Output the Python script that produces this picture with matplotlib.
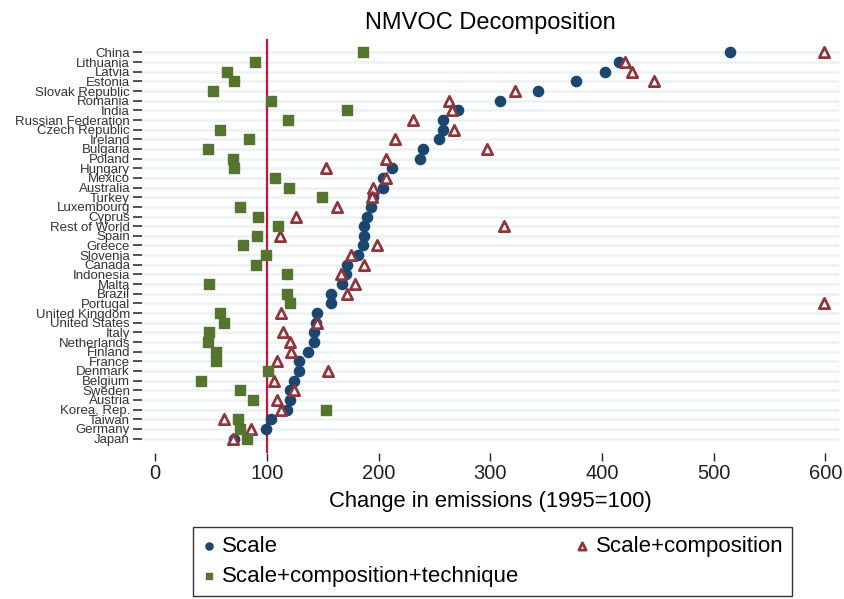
# NMVOC decomposition dot chart, Stata-like look
import numpy as np
import matplotlib.pyplot as plt

plt.rcParams['font.family'] = ['Liberation Sans', 'DejaVu Sans']

countries = ['China', 'Lithuania', 'Latvia', 'Estonia', 'Slovak Republic', 'Romania',
             'India', 'Russian Federation', 'Czech Republic', 'Ireland', 'Bulgaria',
             'Poland', 'Hungary', 'Mexico', 'Australia', 'Turkey', 'Luxembourg',
             'Cyprus', 'Rest of World', 'Spain', 'Greece', 'Slovenia', 'Canada',
             'Indonesia', 'Malta', 'Brazil', 'Portugal', 'United Kingdom',
             'United States', 'Italy', 'Netherlands', 'Finland', 'France', 'Denmark',
             'Belgium', 'Sweden', 'Austria', 'Korea, Rep.', 'Taiwan', 'Germany', 'Japan']

scale = [515, 415, 403, 377, 343, 309, 271, 258, 258, 254, 240, 237, 212, 204, 204,
         195, 193, 190, 187, 187, 186, 182, 172, 171, 167, 157, 157, 145, 144, 142,
         142, 137, 129, 129, 124, 121, 121, 118, 104, 99, 71]

scale_comp = [599, 421, 427, 447, 322, 263, 266, 231, 268, 215, 297, 207, 153, 207,
              195, 194, 163, 126, 312, 112, 199, 175, 187, 166, 179, 172, 599, 113,
              145, 114, 121, 122, 109, 155, 106, 124, 109, 113, 62, 86, 70]

scale_comp_tech = [186, 89, 64, 71, 52, 104, 172, 119, 58, 84, 47, 70, 71, 107, 120,
                   149, 76, 92, 110, 91, 79, 99, 90, 118, 48, 118, 121, 58, 62, 48,
                   47, 54, 54, 101, 41, 76, 88, 153, 74, 76, 82]

navy = '#1a476f'
maroon = '#90353b'
green = '#55752f'

n = len(countries)
ypos = np.arange(n, 0, -1)

fig = plt.figure(figsize=(8.44, 5.99), dpi=100)
ax = fig.add_axes([0.168, 0.2437, 0.8257, 0.6913])

ax.axvline(100, color='#c8143c', lw=1.6, zorder=1)
s1 = ax.scatter(scale, ypos, s=54, marker='o', color=navy, zorder=3, label='Scale')
s2 = ax.scatter(scale_comp, ypos, s=55, marker='^', facecolor='white', edgecolor=maroon,
                linewidths=2.0, zorder=4, label='Scale+composition')
s3 = ax.scatter(scale_comp_tech, ypos, s=46, marker='s', color=green, zorder=5,
                label='Scale+composition+technique')

ax.set_yticks(ypos)
ax.set_yticklabels(countries, fontsize=9.5, color='#222222')
ax.set_ylim(-0.5, 42.4)
ax.set_xlim(-12, 612)
ax.set_xticks([0, 100, 200, 300, 400, 500, 600])
ax.tick_params(axis='x', labelsize=14.5, length=6, width=1, pad=2, colors='#222222')
ax.tick_params(axis='y', length=6.5, width=1.2, pad=2, colors='#333333')
ax.grid(axis='y', color='#eaf2f3', lw=1.8, zorder=0)
ax.set_axisbelow(True)
for sp in ax.spines.values():
    sp.set_visible(False)

ax.set_xlabel('Change in emissions (1995=100)', fontsize=15.8, labelpad=6)
ax.set_title('NMVOC Decomposition', fontsize=17, pad=7)

leg = fig.legend([s1, s3, s2],
                 ['Scale', 'Scale+composition+technique', 'Scale+composition'],
                 ncol=2, mode='expand', loc='lower left',
                 bbox_to_anchor=(193 / 844, 1 - 596 / 599, 599 / 844, 69 / 599),
                 fontsize=16, frameon=True, fancybox=False, edgecolor='black',
                 markerscale=0.7, handletextpad=0.3, labelspacing=0.4,
                 borderpad=0.4, handlelength=0.6, borderaxespad=0)
leg.get_frame().set_linewidth(1.0)

fig.savefig('out.png', dpi=100)
